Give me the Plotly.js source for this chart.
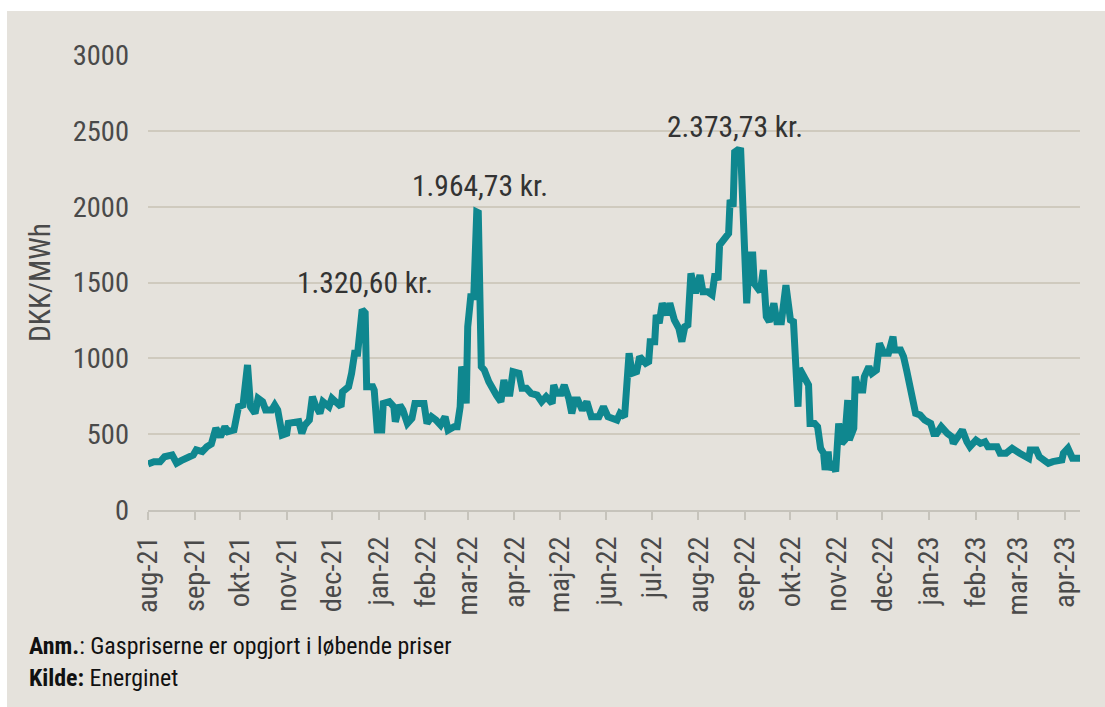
<!DOCTYPE html>
<html>
<head>
<meta charset="utf-8">
<script src="https://cdn.plot.ly/plotly-3.0.1.min.js"></script>
<style>
  html, body { margin: 0; padding: 0; background: #ffffff; width: 1105px; height: 707px; overflow: hidden; }
  #chart { position: absolute; left: 7px; top: 11px; width: 1098px; height: 696px; }
</style>
</head>
<body>
<div id="chart"></div>
<script>
// Days since 1 Aug 2021 (start of series)
const startDate = [2021, 7, 1];
const dayIndex = [
  0,4,8,11,16,19,22,27,30,32,36,39,42,45,48,51,53,57,60,63,66,68,71,73,76,78,82,84,86,89,
  92,93,96,100,102,104,107,109,111,114,116,120,122,125,128,129,133,135,137,139,142,144,145,149,150,152,155,156,160,163,
  164,167,169,172,175,177,180,183,185,188,191,194,197,199,203,205,207,208,209,211,212,214,216,218,219,221,223,226,228,231,
  234,236,238,240,242,246,248,251,254,258,261,264,268,269,271,274,276,279,281,283,285,288,291,294,299,302,305,311,313,316,
  319,321,324,326,330,332,333,336,337,339,341,344,346,349,352,354,356,358,360,363,366,368,371,374,376,378,379,383,385,386,
  388,389,391,393,395,397,399,401,402,406,408,410,412,415,417,420,423,426,428,431,432,434,438,439,442,444,446,448,449,451,
  452,454,456,458,460,462,464,465,468,469,471,474,475,478,480,483,485,488,491,494,495,499,501,503,505,509,512,515,519,521,
  523,526,530,533,534,537,540,543,545,549,552,555,557,563,565,569,573,578,584,585,589,591,597,600,606,607,610,613,618
];
// Gas price, DKK/MWh
const price = [
  303,318,318,351,363,308,325,351,363,396,385,417,435,539,483,549,516,527,681,692,956,681,637,736,714,659,659,692,659,494,
  505,571,571,582,505,560,593,747,692,637,714,681,736,703,681,780,813,901,1033,1033,1321,1300,813,813,791,527,527,703,714,681,
  582,692,659,571,604,703,703,703,571,615,593,560,615,527,549,549,681,945,912,703,1208,1406,1406,1965,1960,945,923,846,802,758,
  714,857,769,769,912,901,802,802,769,758,714,747,703,824,769,769,824,736,637,725,725,659,714,615,615,681,615,593,637,615,
  1033,901,912,1011,967,978,1110,1110,1286,1231,1363,1286,1363,1253,1198,1110,1209,1220,1560,1429,1549,1439,1439,1418,1560,1516,1747,1802,1824,2044,
  2000,2360,2374,2370,1890,1363,1681,1681,1494,1439,1582,1275,1242,1363,1242,1242,1483,1253,1242,681,934,901,824,571,571,549,407,374,264,385,
  264,319,253,571,439,461,725,461,538,879,791,791,879,945,901,923,1099,1033,1033,1143,1055,1055,1011,923,813,637,626,593,571,505,
  505,549,505,483,439,494,527,450,417,461,439,450,417,417,374,374,407,374,341,396,396,351,308,319,330,374,407,341,341
];
// Month ticks
const tickDates = ['2021-08-01','2021-09-01','2021-10-01','2021-11-01','2021-12-01','2022-01-01','2022-02-01','2022-03-01','2022-04-01','2022-05-01','2022-06-01','2022-07-01','2022-08-01','2022-09-01','2022-10-01','2022-11-01','2022-12-01','2023-01-01','2023-02-01','2023-03-01','2023-04-01'];
const tickLabels = ['aug-21','sep-21','okt-21','nov-21','dec-21','jan-22','feb-22','mar-22','apr-22','maj-22','jun-22','jul-22','aug-22','sep-22','okt-22','nov-22','dec-22','jan-23','feb-23','mar-23','apr-23'];
// Peak labels
const peakDates = ['2021-12-23','2022-03-09','2022-08-25'];
const peakLabelY = [1500, 2135, 2525];
const peakLabels = ['1.320,60 kr.','1.964,73 kr.','2.373,73 kr.'];
const noteLines = ['<b>Anm.</b>: Gaspriserne er opgjort i løbende priser', '<b>Kilde:</b> Energinet'];

function toDate(d) {
  const dt = new Date(Date.UTC(startDate[0], startDate[1], startDate[2] + d));
  return dt.toISOString().slice(0, 10);
}
const dates = dayIndex.map(toDate);

const FONT = 'Roboto Condensed, Roboto, sans-serif';

const trace = {
  x: dates, y: price, type: 'scatter', mode: 'lines',
  line: { color: '#0f878f', width: 7, shape: 'linear' },
  hoverinfo: 'skip', cliponaxis: false
};

const annotations = peakLabels.map((t, i) => ({
  x: peakDates[i], y: peakLabelY[i], xref: 'x', yref: 'y', text: t, showarrow: false,
  font: { family: FONT, size: 29.5, color: '#333333' }, xanchor: 'center', yanchor: 'middle'
}));
noteLines.forEach((t, i) => annotations.push({
  x: -0.1298, y: [-0.299, -0.369][i], xref: 'paper', yref: 'paper', text: t, showarrow: false,
  xanchor: 'left', yanchor: 'middle', align: 'left',
  font: { family: FONT, size: 23.9, color: '#111111' }
}));

const layout = {
  width: 1098, height: 696,
  paper_bgcolor: '#e5e2dc', plot_bgcolor: '#e5e2dc',
  margin: { l: 141, r: 25, t: 44, b: 197, pad: 0 },
  showlegend: false,
  font: { family: FONT, color: '#4a4a4a' },
  xaxis: {
    type: 'date', range: ['2021-08-01', '2023-04-11'],
    tickvals: tickDates, ticktext: tickLabels, tickangle: -90,
    tickfont: { family: FONT, size: 28.5, color: '#4a4a4a' },
    ticks: 'outside', ticklen: 8, tickwidth: 2, tickcolor: '#c6c3bb',
    showline: true, linecolor: '#c6c3bb', linewidth: 2,
    showgrid: false, zeroline: false, ticklabelstandoff: 5
  },
  yaxis: {
    range: [0, 3000], tickvals: [0, 500, 1000, 1500, 2000, 2500, 3000],
    tickfont: { family: FONT, size: 28.5, color: '#4a4a4a' },
    showgrid: true, gridcolor: '#cfcabe', gridwidth: 2,
    zeroline: false, showline: false, ticks: '', ticklabelstandoff: 18,
    title: { text: 'DKK/MWh', font: { family: FONT, size: 29.5, color: '#4a4a4a' }, standoff: 13 }
  },
  annotations: annotations
};

Plotly.newPlot('chart', [trace], layout, { displayModeBar: false, staticPlot: true });
</script>
</body>
</html>
